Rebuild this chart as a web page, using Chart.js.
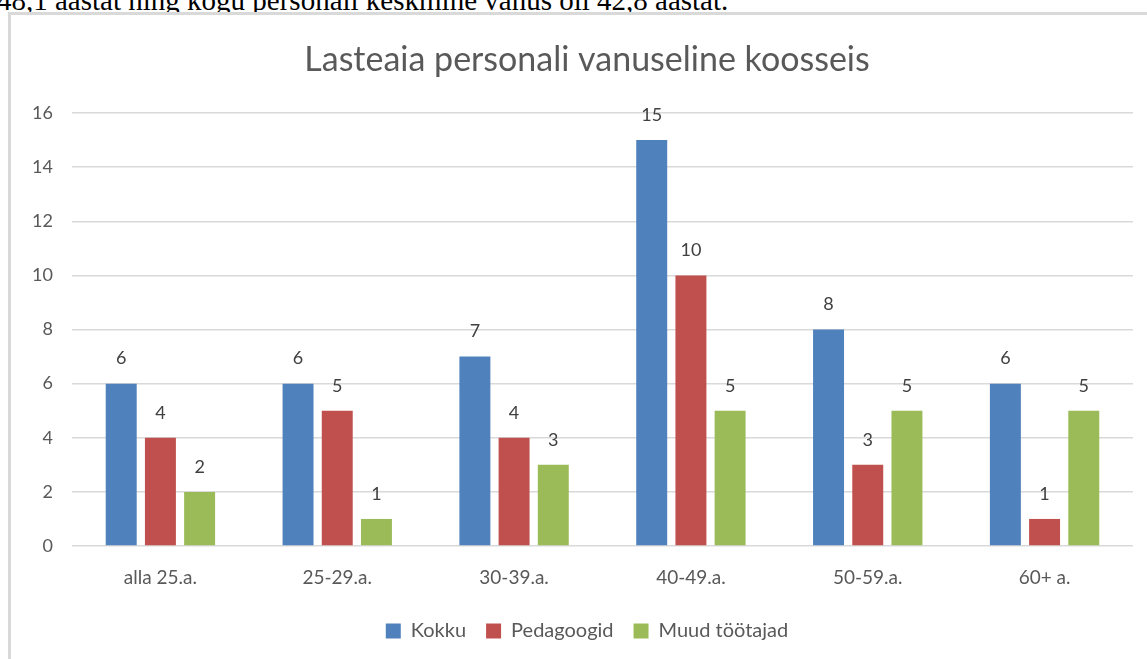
<!DOCTYPE html>
<html lang="et">
<head>
    <meta charset="UTF-8">
    <title>Lasteaia personali vanuseline koosseis</title>
    <script src="https://cdn.jsdelivr.net/npm/chart.js"></script>
    <style>
        body {
            margin: 0;
            width: 1147px;
            height: 659px;
            overflow: hidden;
            background: #fff;
            position: relative;
        }
        .page-text {
            position: absolute;
            left: -3px;
            top: -14px;
            font-family: "Liberation Serif", "Times New Roman", serif;
            font-size: 29px;
            line-height: 29px;
            color: #000;
            white-space: nowrap;
        }
        .frame {
            position: absolute;
            left: 8px;
            top: 12px;
            width: 1200px;
            height: 700px;
            border-left: 3px solid #d9d9d9;
            border-top: 3px solid #d9d9d9;
            background: #fff;
        }
        #chart {
            position: absolute;
            left: 20px;
            top: 0;
        }
    </style>
</head>
<body>

<div class="page-text">48,1 aastat ning kogu personali keskmine vanus oli 42,8 aastat.</div>
<div class="frame"></div>
<canvas id="chart" width="1134" height="659"></canvas>

<script>
    // andmed
    const categories = ['alla 25.a.', '25-29.a.', '30-39.a.', '40-49.a.', '50-59.a.', '60+ a.'];
    const kokku = [6, 6, 7, 15, 8, 6];
    const pedagoogid = [4, 5, 4, 10, 3, 1];
    const muud = [2, 1, 3, 5, 5, 5];
    const seriesNames = ['Kokku', 'Pedagoogid', 'Muud töötajad'];
    const seriesColors = ['#4f81bd', '#c0504d', '#9bbb59'];

    const textColor = '#595959';
    const fontName = 'Lato, "Noto Sans", sans-serif';

    // väärtused tulpade kohale
    const valueLabels = {
        id: 'valueLabels',
        afterDatasetsDraw(chart) {
            const ctx = chart.ctx;
            ctx.save();
            ctx.font = '18px ' + fontName;
            ctx.fillStyle = '#404040';
            ctx.textAlign = 'center';
            ctx.textBaseline = 'middle';
            chart.data.datasets.forEach((ds, i) => {
                chart.getDatasetMeta(i).data.forEach((bar, j) => {
                    ctx.fillText(ds.data[j], bar.x, bar.y - 25);
                });
            });
            ctx.restore();
        }
    };

    new Chart(document.getElementById('chart'), {
        type: 'bar',
        data: {
            labels: categories,
            datasets: [
                { label: seriesNames[0], data: kokku, backgroundColor: seriesColors[0] },
                { label: seriesNames[1], data: pedagoogid, backgroundColor: seriesColors[1] },
                { label: seriesNames[2], data: muud, backgroundColor: seriesColors[2] }
            ]
        },
        options: {
            responsive: false,
            animation: false,
            datasets: {
                bar: {
                    categoryPercentage: 0.665,
                    barPercentage: 0.79
                }
            },
            layout: {
                padding: { top: 20, right: 0, bottom: 8, left: 0 }
            },
            plugins: {
                title: {
                    display: true,
                    text: 'Lasteaia personali vanuseline koosseis',
                    color: textColor,
                    font: { family: fontName, size: 34, weight: 'normal' },
                    padding: { top: 19.6, bottom: 32.6 }
                },
                legend: {
                    position: 'bottom',
                    labels: {
                        color: textColor,
                        font: { family: fontName, size: 20 },
                        boxWidth: 15,
                        boxHeight: 15,
                        padding: 20
                    }
                },
                tooltip: { enabled: false }
            },
            scales: {
                x: {
                    afterFit: s => { s.height = 55; },
                    grid: { display: false, drawTicks: false },
                    border: { display: false },
                    ticks: {
                        color: textColor,
                        font: { family: fontName, size: 19 },
                        padding: 20
                    }
                },
                y: {
                    min: 0,
                    max: 16,
                    afterFit: s => { s.width = 52; },
                    grid: { color: '#d9d9d9', lineWidth: 1.5, drawTicks: false },
                    border: { display: false },
                    ticks: {
                        stepSize: 2,
                        color: textColor,
                        font: { family: fontName, size: 18 },
                        padding: 19
                    }
                },
                // tühi parem telg, et joonisala lõppeks enne kaadri serva
                yRight: {
                    position: 'right',
                    afterFit: s => { s.width = 21; },
                    grid: { display: false },
                    border: { display: false },
                    ticks: { display: false }
                }
            }
        },
        plugins: [valueLabels]
    });
</script>

</body>
</html>
